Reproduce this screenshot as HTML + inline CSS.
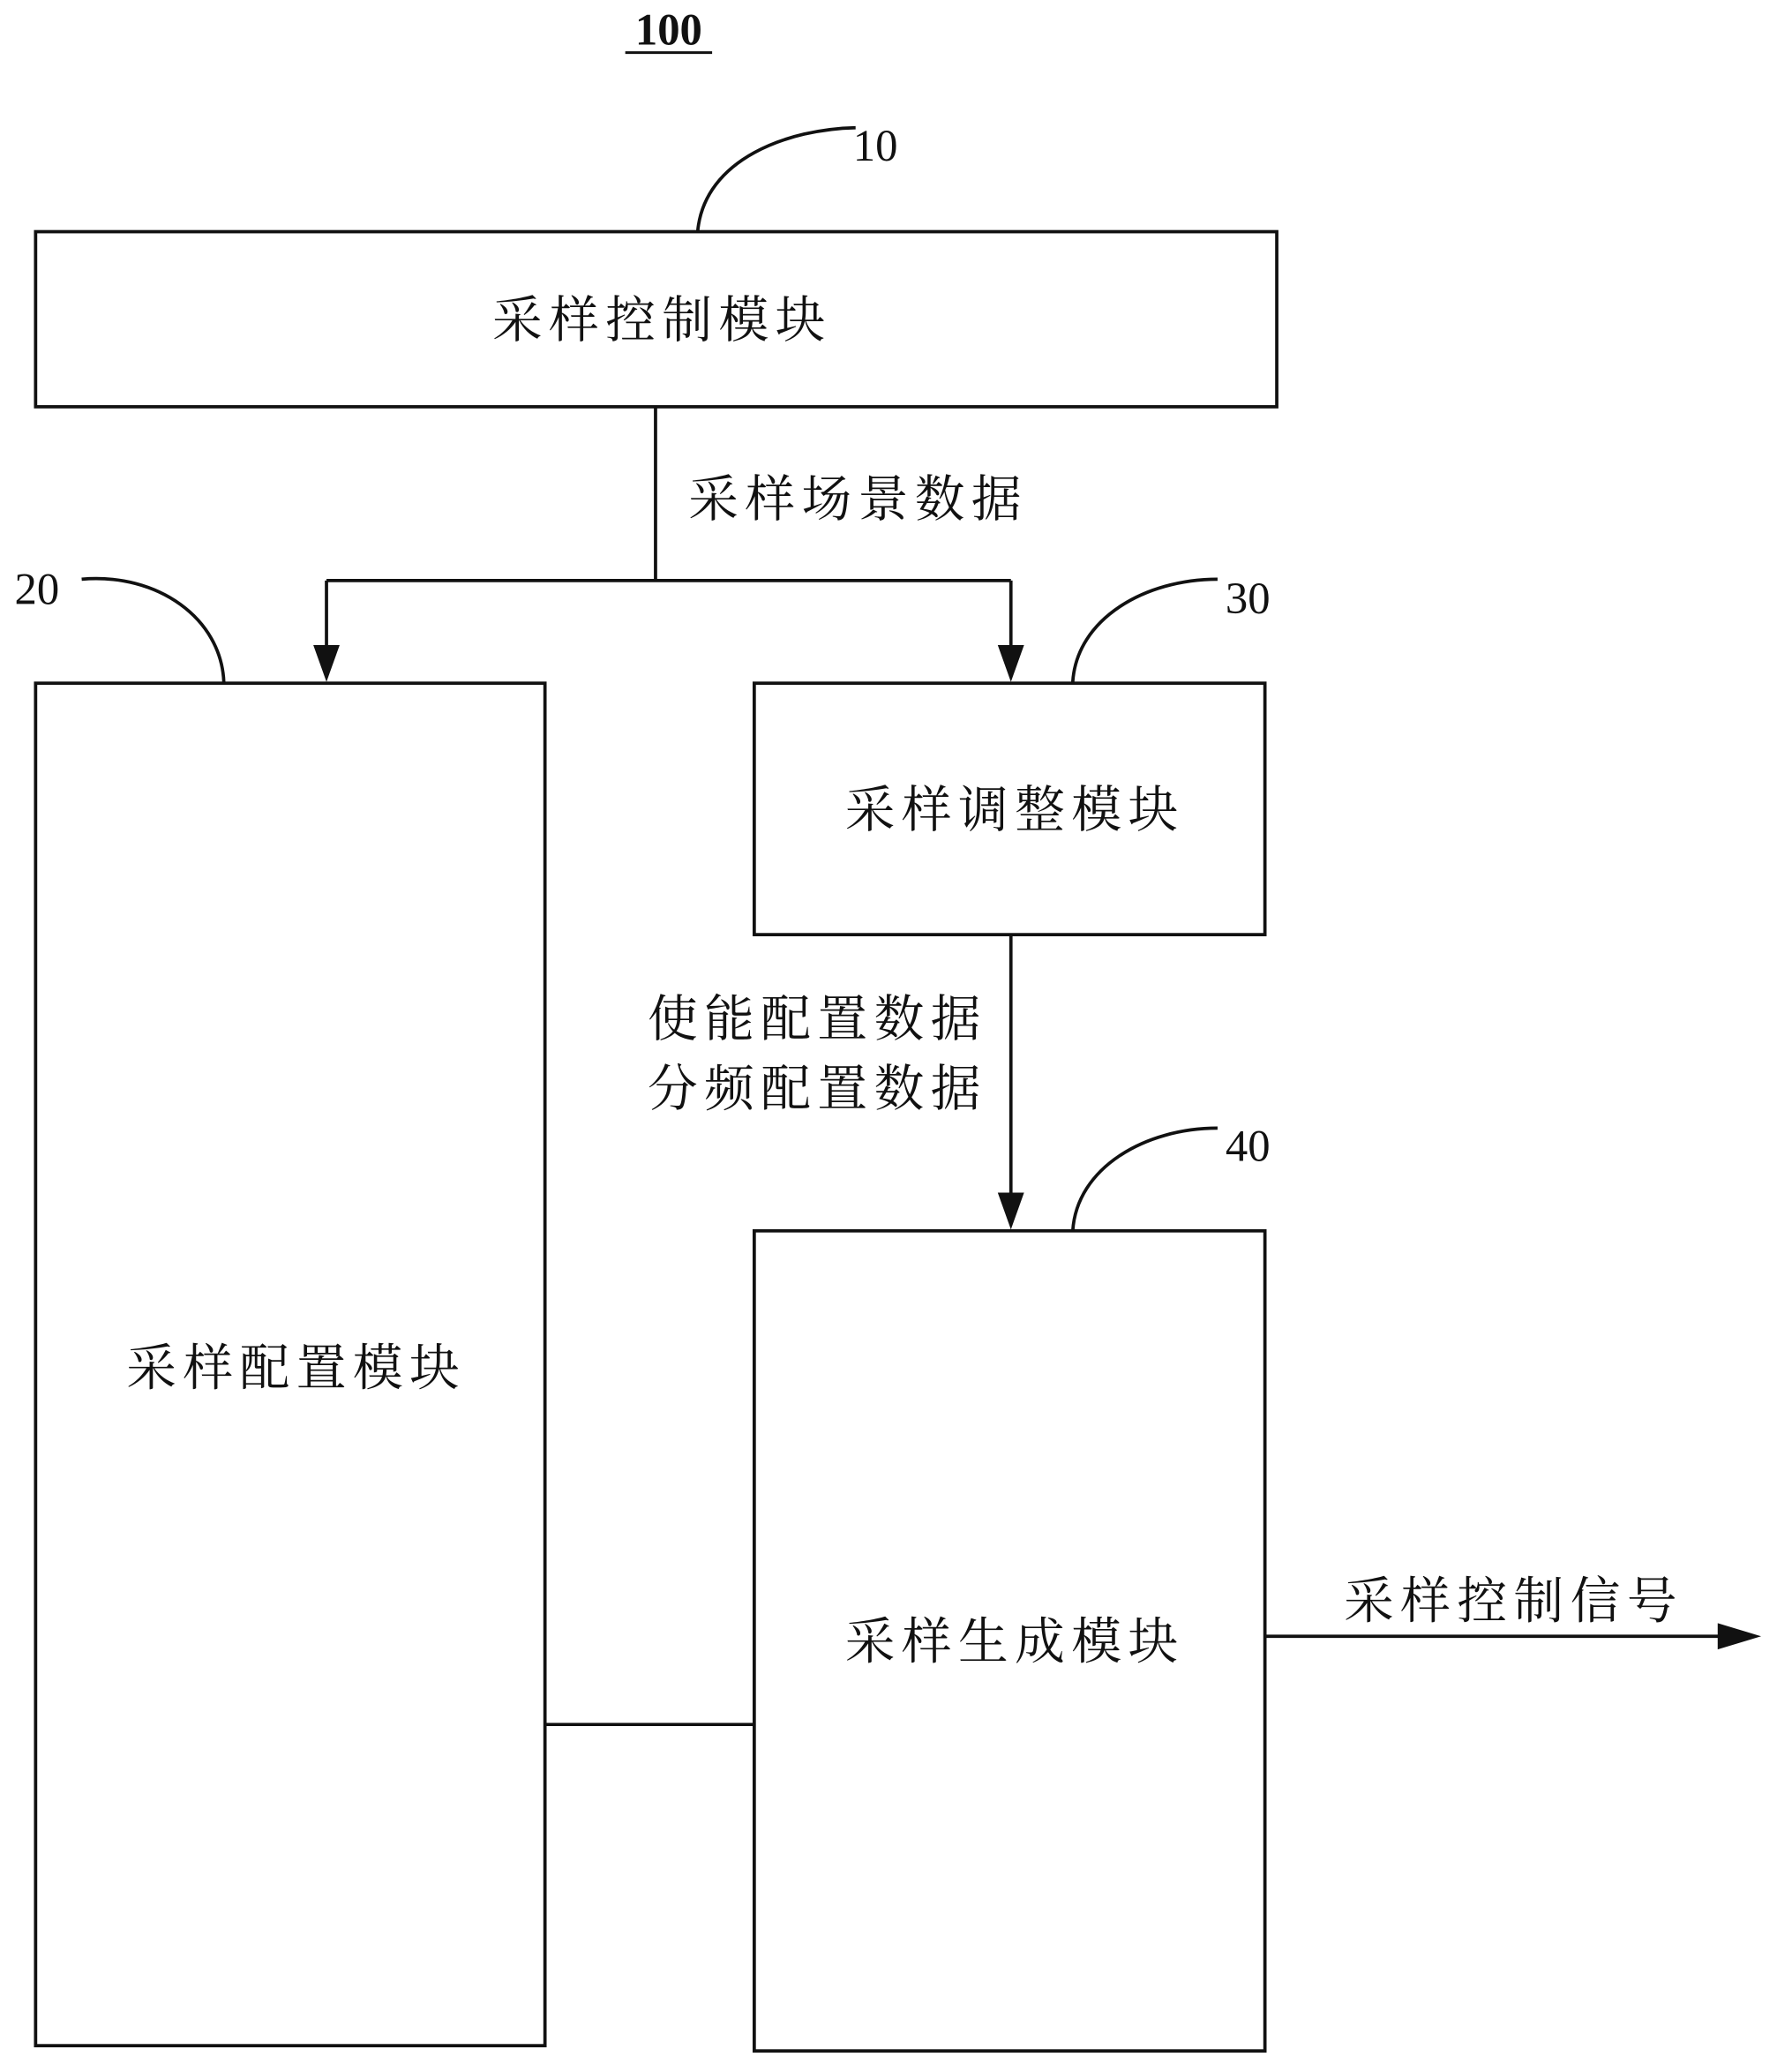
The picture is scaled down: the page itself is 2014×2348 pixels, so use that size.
<!DOCTYPE html>
<html><head><meta charset="utf-8"><style>
html,body{margin:0;padding:0;background:#fff}
svg{display:block}
text{font-family:"Liberation Serif","Noto Serif CJK SC","Noto Sans CJK SC",serif;fill:#111}
</style></head><body>
<svg width="2014" height="2348" viewBox="0 0 1350 1574" xmlns="http://www.w3.org/2000/svg">
<g stroke="#111" stroke-width="2.5" fill="none">
<rect x="27" y="176" width="943" height="133"/>
<rect x="27" y="519" width="387" height="1035"/>
<rect x="573" y="519" width="388" height="191"/>
<rect x="573" y="935" width="388" height="623"/>
<path d="M498 309 V441 M248 441 H768"/>
<path d="M248 441 V496"/><path d="M768 441 V496"/>
<path d="M768 710 V912"/>
<path d="M414 1310 H573"/>
<path d="M961 1243 H1310"/>
<path d="M530 176 C535 120 600 98 650 97"/>
<path d="M62 440 C120 435 168 470 170 518"/>
<path d="M815 518 C818 470 870 440 925 440"/>
<path d="M815 935 C818 887 870 857 925 857"/>
</g>
<g fill="#111">
<path d="M238 490 L258 490 L248 518 z"/>
<path d="M758 490 L778 490 L768 518 z"/>
<path d="M758 906 L778 906 L768 934 z"/>
<path d="M1305 1233 L1338 1243 L1305 1253 z"/>
</g>
<text x="508" y="34" font-size="34" font-weight="bold" text-anchor="middle">100</text>
<line x1="475" y1="40" x2="541" y2="40" stroke="#111" stroke-width="2"/>
<text x="665" y="122" font-size="34" text-anchor="middle">10</text>
<text x="28" y="459" font-size="34" text-anchor="middle">20</text>
<text x="948" y="466" font-size="34" text-anchor="middle">30</text>
<text x="948" y="882" font-size="34" text-anchor="middle">40</text>
<g font-size="38" text-anchor="middle" letter-spacing="5">
<text x="503" y="256">采样控制模块</text>
<text x="652" y="392">采样场景数据</text>
<text x="225" y="1052">采样配置模块</text>
<text x="771" y="628">采样调整模块</text>
<text x="621" y="787">使能配置数据</text>
<text x="621" y="840">分频配置数据</text>
<text x="771" y="1260">采样生成模块</text>
<text x="1150" y="1229">采样控制信号</text>
</g>
</svg>
</body></html>
